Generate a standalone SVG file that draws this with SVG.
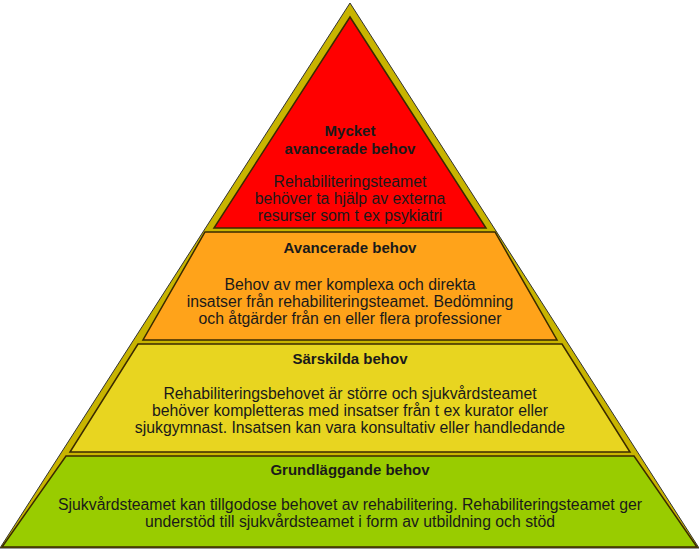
<svg xmlns="http://www.w3.org/2000/svg" width="699" height="549" viewBox="0 0 699 549">
<style>
.l{stroke:#3a2a00;stroke-width:1.5}
text{font-family:"Liberation Sans",Arial,sans-serif;font-size:15.8px;fill:#1a1a1a;text-anchor:middle}
.h{font-weight:bold;font-size:15px}
</style>
<rect width="699" height="549" fill="#fff"/>
<polygon points="350,3 0,548 699,548" fill="#c8b400" stroke="#333" stroke-width="1"/>
<g id="red"><polygon class="l" points="350,17 214,228 486,228" fill="#ff0000"/>
<text class="h" x="350" y="136">Mycket</text><text class="h" x="350" y="154">avancerade behov</text>
<text x="350" y="187">Rehabiliteringsteamet</text><text x="350" y="204">behöver ta hjälp av externa</text><text x="350" y="221">resurser som t ex psykiatri</text></g>
<g id="orange"><polygon class="l" points="205,232 495,232 557,340 143,340" fill="#ffa31a"/>
<text class="h" x="350" y="253">Avancerade behov</text>
<text x="350" y="290">Behov av mer komplexa och direkta</text><text x="350" y="307">insatser från rehabiliteringsteamet. Bedömning</text><text x="350" y="324">och åtgärder från en eller flera professioner</text></g>
<g id="yellow"><polygon class="l" points="138,344 562,344 630,452 70,452" fill="#e8d520"/>
<text class="h" x="350" y="364">Särskilda behov</text>
<text x="350" y="399">Rehabiliteringsbehovet är större och sjukvårdsteamet</text><text x="350" y="416">behöver kompletteras med insatser från t ex kurator eller</text><text x="350" y="433">sjukgymnast. Insatsen kan vara konsultativ eller handledande</text></g>
<g id="green"><polygon class="l" points="66,456 634,456 697,547 2,547" fill="#99cc00"/>
<text class="h" x="350" y="475">Grundläggande behov</text>
<text x="350" y="510">Sjukvårdsteamet kan tillgodose behovet av rehabilitering. Rehabiliteringsteamet ger</text><text x="350" y="527">understöd till sjukvårdsteamet i form av utbildning och stöd</text></g>
</svg>
